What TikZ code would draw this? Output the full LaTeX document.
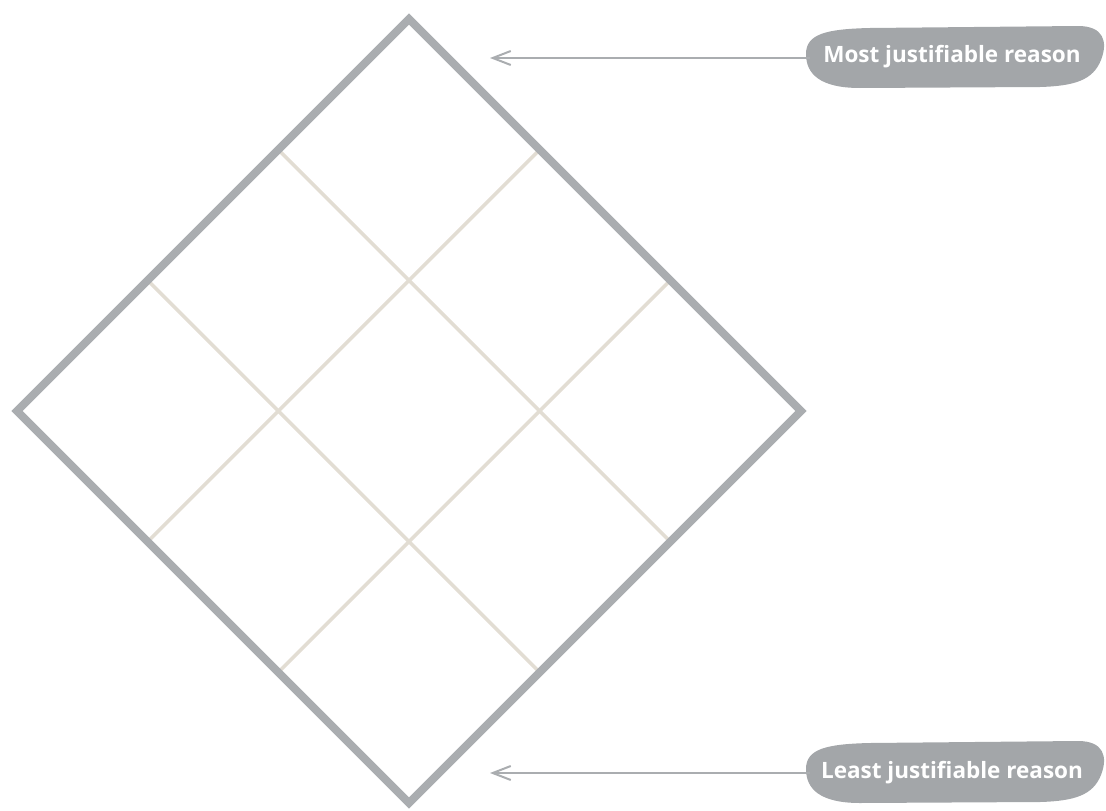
\documentclass[tikz,border=0pt]{standalone}
\usepackage{fontspec}
\newfontfamily\labfont{Open Sans}
\usetikzlibrary{arrows.meta,calc}
\definecolor{frame}{RGB}{170,173,176}
\definecolor{gridc}{RGB}{226,221,211}
\definecolor{blob}{RGB}{163,166,169}
\tikzset{
  border/.style={draw=frame, line width=8pt, line join=miter},
  gridline/.style={draw=gridc, line width=3.6pt},
  pointer/.style={draw=frame, line width=2pt, -{Straight Barb[length=18pt,width=14pt,line width=2pt]}},
  label/.style={font=\labfont\bfseries\fontsize{22.5}{24}\selectfont, text=white, inner sep=0pt},
  bubble/.style={fill=blob, draw=none}
}
\begin{document}
\begin{tikzpicture}[x=1pt,y=-1pt]
\useasboundingbox (0,0) rectangle (1106,811);
% diamond corners
\coordinate (T) at (409,19);
\coordinate (L) at (17,411);
\coordinate (B) at (409,803);
\coordinate (R) at (801,411);
% grid lines (thirds)
\draw[gridline] ($(T)!1/3!(L)$) -- ($(R)!1/3!(B)$);
\draw[gridline] ($(T)!2/3!(L)$) -- ($(R)!2/3!(B)$);
\draw[gridline] ($(T)!1/3!(R)$) -- ($(L)!1/3!(B)$);
\draw[gridline] ($(T)!2/3!(R)$) -- ($(L)!2/3!(B)$);
% border
\draw[border] (T) -- (L) -- (B) -- (R) -- cycle;
% top bubble
\path[bubble] (806,54) .. controls (806,34) and (826,29) .. (870,28)
  -- (1078,26) .. controls (1104,26) and (1108,42) .. (1101,60)
  .. controls (1093,80) and (1075,86) .. (1040,87)
  -- (860,88) .. controls (820,88) and (806,74) .. (806,54) -- cycle;
\node[label] (most) at (952,57) {Most justifiable reason};
\coordinate (mostTip) at (490,58);
\draw[pointer] (810,58) -- (mostTip);
% bottom bubble
\path[bubble] (806,769) .. controls (806,749) and (826,744) .. (870,743)
  -- (1078,741) .. controls (1104,741) and (1108,757) .. (1101,775)
  .. controls (1093,795) and (1075,801) .. (1040,802)
  -- (860,803) .. controls (820,803) and (806,789) .. (806,769) -- cycle;
\node[label] (least) at (952,773) {Least justifiable reason};
\coordinate (leastTip) at (490,773);
\draw[pointer] (810,773) -- (leastTip);
\end{tikzpicture}
\end{document}
